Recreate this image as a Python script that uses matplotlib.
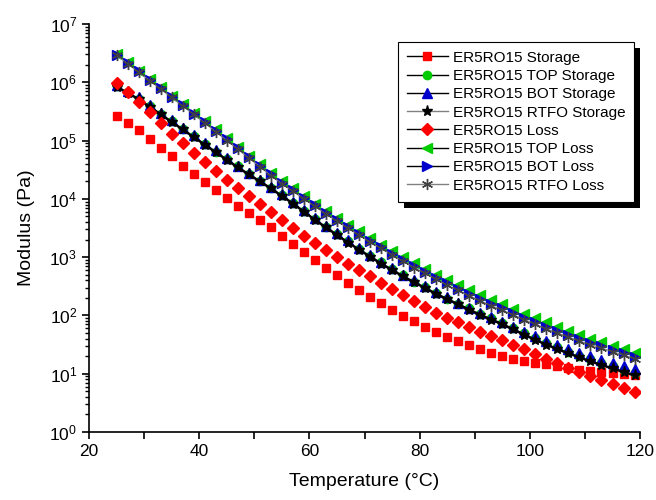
import numpy as np
import matplotlib.pyplot as plt
from matplotlib.lines import Line2D
from matplotlib.patches import Rectangle
from matplotlib.ticker import LogLocator, MultipleLocator

plt.rcParams['font.family'] = ['Liberation Sans', 'DejaVu Sans']
plt.rcParams['mathtext.default'] = 'regular'

# temperature sweep, 25 to 119 C every 2 C
temp = list(range(25, 120, 2))

# log10 of modulus (Pa)
storage = [5.42, 5.30, 5.18, 5.03, 4.88, 4.73, 4.57, 4.43, 4.29, 4.15,
           4.01, 3.88, 3.76, 3.63, 3.51, 3.37, 3.22, 3.08, 2.95, 2.82,
           2.69, 2.56, 2.44, 2.32, 2.21, 2.10, 1.99, 1.90, 1.80, 1.71,
           1.63, 1.56, 1.49, 1.42, 1.36, 1.30, 1.26, 1.22, 1.19, 1.16,
           1.13, 1.10, 1.07, 1.05, 1.03, 1.01, 0.99, 0.97]
top_storage = [5.93, 5.83, 5.72, 5.60, 5.46, 5.33, 5.20, 5.07, 4.94, 4.81,
               4.68, 4.56, 4.43, 4.31, 4.19, 4.06, 3.93, 3.79, 3.66, 3.52,
               3.39, 3.27, 3.14, 3.02, 2.91, 2.79, 2.69, 2.58, 2.48, 2.39,
               2.29, 2.20, 2.12, 2.03, 1.95, 1.87, 1.78, 1.69, 1.61, 1.53,
               1.45, 1.38, 1.31, 1.25, 1.19, 1.13, 1.07, 1.02]
bot_storage = [5.95, 5.85, 5.74, 5.61, 5.48, 5.35, 5.22, 5.09, 4.96, 4.83,
               4.70, 4.57, 4.45, 4.33, 4.21, 4.08, 3.95, 3.81, 3.67, 3.54,
               3.41, 3.29, 3.16, 3.04, 2.92, 2.81, 2.70, 2.60, 2.50, 2.40,
               2.31, 2.22, 2.13, 2.05, 1.97, 1.89, 1.80, 1.72, 1.64, 1.56,
               1.49, 1.42, 1.36, 1.30, 1.24, 1.18, 1.13, 1.08]
rtfo_storage = [5.92, 5.82, 5.71, 5.58, 5.45, 5.32, 5.19, 5.06, 4.93, 4.80,
                4.67, 4.54, 4.42, 4.30, 4.18, 4.05, 3.92, 3.78, 3.64, 3.51,
                3.38, 3.25, 3.13, 3.01, 2.89, 2.78, 2.67, 2.57, 2.47, 2.37,
                2.28, 2.19, 2.10, 2.01, 1.93, 1.85, 1.76, 1.67, 1.58, 1.50,
                1.42, 1.35, 1.28, 1.21, 1.15, 1.09, 1.03, 0.97]
loss = [5.98, 5.84, 5.67, 5.49, 5.30, 5.12, 4.95, 4.79, 4.63, 4.47,
        4.33, 4.19, 4.05, 3.92, 3.78, 3.64, 3.50, 3.37, 3.25, 3.13,
        3.01, 2.89, 2.78, 2.67, 2.56, 2.45, 2.35, 2.25, 2.15, 2.05,
        1.96, 1.88, 1.80, 1.72, 1.65, 1.58, 1.50, 1.42, 1.34, 1.26,
        1.18, 1.10, 1.03, 0.96, 0.89, 0.82, 0.75, 0.69]
top_loss = [6.48, 6.34, 6.20, 6.06, 5.92, 5.77, 5.63, 5.48, 5.34, 5.19,
            5.04, 4.89, 4.74, 4.60, 4.45, 4.31, 4.18, 4.05, 3.92, 3.80,
            3.68, 3.56, 3.44, 3.33, 3.21, 3.11, 3.00, 2.90, 2.80, 2.70,
            2.61, 2.52, 2.43, 2.35, 2.27, 2.19, 2.11, 2.03, 1.96, 1.88,
            1.80, 1.73, 1.67, 1.60, 1.54, 1.48, 1.42, 1.36]
bot_loss = [6.47, 6.33, 6.19, 6.04, 5.90, 5.75, 5.61, 5.46, 5.32, 5.17,
            5.02, 4.87, 4.72, 4.57, 4.42, 4.28, 4.15, 4.02, 3.89, 3.76,
            3.64, 3.52, 3.40, 3.28, 3.17, 3.06, 2.95, 2.84, 2.74, 2.64,
            2.55, 2.46, 2.37, 2.28, 2.20, 2.12, 2.04, 1.96, 1.88, 1.80,
            1.73, 1.66, 1.60, 1.53, 1.47, 1.41, 1.35, 1.29]
rtfo_loss = [6.46, 6.32, 6.17, 6.03, 5.88, 5.74, 5.59, 5.45, 5.30, 5.15,
             5.00, 4.85, 4.70, 4.55, 4.40, 4.26, 4.13, 4.00, 3.87, 3.74,
             3.62, 3.50, 3.38, 3.26, 3.15, 3.04, 2.93, 2.82, 2.72, 2.62,
             2.52, 2.43, 2.34, 2.25, 2.17, 2.09, 2.01, 1.93, 1.85, 1.77,
             1.70, 1.63, 1.56, 1.50, 1.44, 1.38, 1.32, 1.26]

names = ['ER5RO15 Storage', 'ER5RO15 TOP Storage', 'ER5RO15 BOT Storage',
         'ER5RO15 RTFO Storage', 'ER5RO15 Loss', 'ER5RO15 TOP Loss',
         'ER5RO15 BOT Loss', 'ER5RO15 RTFO Loss']
series = [storage, top_storage, bot_storage, rtfo_storage,
          loss, top_loss, bot_loss, rtfo_loss]

RED, GREEN, BLUE = '#ff0000', '#00cc00', '#0000cc'
GREY = '#808080'
ast = (6, 2, 0)
# marker, face, size, plot line colour/width, legend line colour
styles = [
    ('s', RED, 6.0, None, 0, 'black'),
    ('o', GREEN, 6.0, None, 0, 'black'),
    ('^', BLUE, 7.0, None, 0, 'black'),
    ('*', 'black', 8.0, 'black', 1.8, GREY),
    ('D', RED, 5.8, None, 0, 'black'),
    ('<', GREEN, 7.0, None, 0, 'black'),
    ('>', BLUE, 7.0, None, 0, 'black'),
    (ast, '#404040', 8.0, GREY, 0.8, GREY),
]

fig = plt.figure(figsize=(6.56, 5.0), dpi=100)
ax = fig.add_axes([0.1357, 0.136, 0.84, 0.816])

T = np.array(temp)
handles = []
for vals, (mk, fc, ms, lc, lw, hc), name in zip(series, styles, names):
    y = 10 ** np.array(vals)
    ax.plot(T, y, linestyle='-' if lc else 'none', color=lc or fc, lw=lw,
            marker=mk, ms=ms, mfc=fc, mec=fc, mew=1.0)
    handles.append(Line2D([], [], color=hc, lw=1.0, marker=mk, ms=ms,
                          mfc=fc, mec=fc))

ax.set_yscale('log')
ax.set_xlim(20, 120)
ax.set_ylim(1, 1e7)
ax.xaxis.set_major_locator(MultipleLocator(20))
ax.xaxis.set_minor_locator(MultipleLocator(10))
ax.yaxis.set_major_locator(LogLocator(base=10, numticks=10))
ax.yaxis.set_minor_locator(LogLocator(base=10, subs=np.arange(2, 10), numticks=20))
ax.yaxis.set_minor_formatter(plt.NullFormatter())

for s in ['top', 'right']:
    ax.spines[s].set_visible(False)
for s in ['left', 'bottom']:
    ax.spines[s].set_linewidth(1.2)
ax.tick_params(which='major', direction='out', length=5, width=1.2, labelsize=12.5)
ax.tick_params(which='minor', direction='out', length=3, width=1.0)
ax.tick_params(axis='x', which='minor', length=5, width=1.2)

ax.set_xlabel('Temperature (°C)', fontsize=14, labelpad=10)
ax.set_ylabel('Modulus (Pa)', fontsize=14, labelpad=10)

leg = ax.legend(handles, names, loc='upper left', bbox_to_anchor=(0.56, 0.957),
                fontsize=11, frameon=True, fancybox=False, framealpha=1,
                edgecolor='black', handlelength=2.7, handletextpad=0.3,
                labelspacing=0.28, borderpad=0.6, borderaxespad=0)
leg.get_frame().set_linewidth(0.8)
leg.set_zorder(6)

# drop shadow behind the legend box
fig.canvas.draw()
bb = leg.get_window_extent()
inv = ax.transAxes.inverted()
(x0, y0), (x1, y1) = inv.transform([[bb.x0 + 6, bb.y0 - 6], [bb.x1 + 6, bb.y1 - 6]])
ax.add_patch(Rectangle((x0, y0), x1 - x0, y1 - y0, transform=ax.transAxes,
                       facecolor='black', edgecolor='none', zorder=5.5, clip_on=False))

fig.savefig('out.png', dpi=100)
